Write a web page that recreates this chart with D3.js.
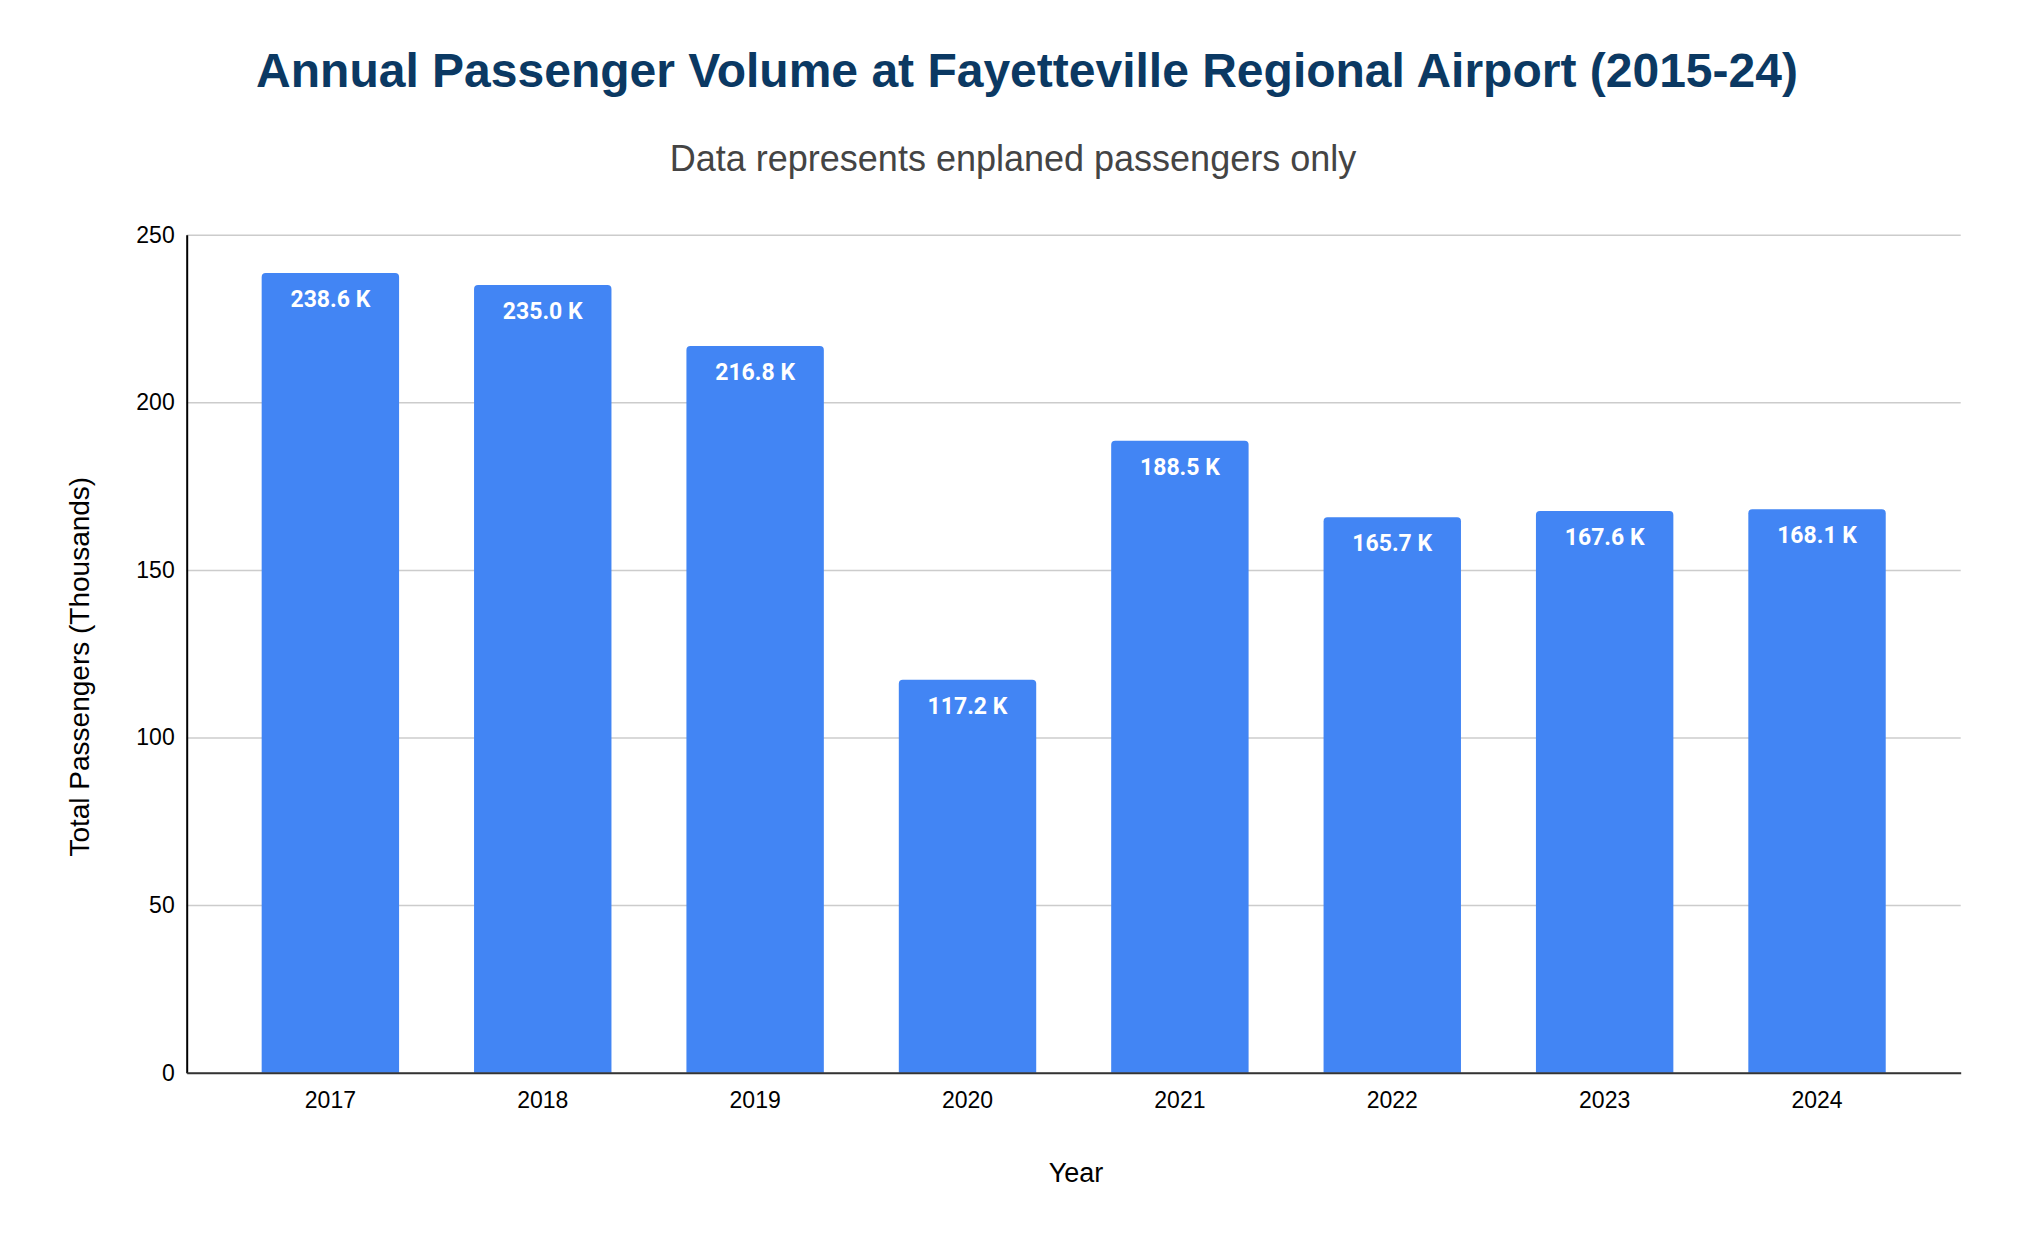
<!DOCTYPE html>
<html>
<head>
<meta charset="utf-8">
<script src="https://cdn.jsdelivr.net/npm/d3@7"></script>
<style>
  html, body { margin: 0; padding: 0; background: #ffffff; }
  svg { display: block; }
</style>
</head>
<body>
<svg id="chart" width="2024" height="1250"></svg>
<script>
const titleText = "Annual Passenger Volume at Fayetteville Regional Airport (2015-24)";
const subtitleText = "Data represents enplaned passengers only";
const xAxisTitle = "Year";
const yAxisTitle = "Total Passengers (Thousands)";
const years = ["2017", "2018", "2019", "2020", "2021", "2022", "2023", "2024"];
const passengers = [238.6, 235.0, 216.8, 117.2, 188.5, 165.7, 167.6, 168.1];
const yTicks = [0, 50, 100, 150, 200, 250];

const W = 2024, H = 1250;
const plot = { left: 186.7, right: 1960.7, top: 234.7, bottom: 1072.7 };
const sans = "'Liberation Sans', Arial, Helvetica, sans-serif";

const svg = d3.select("#chart");
svg.append("rect").attr("width", W).attr("height", H).attr("fill", "#ffffff");

const x = d3.scaleBand().domain(years).range([plot.left, plot.right])
  .paddingInner(0.353).paddingOuter(0.353);
const y = d3.scaleLinear().domain([0, 250]).range([plot.bottom, plot.top]);

// Title & subtitle
svg.append("text").attr("x", 1027).attr("y", 87.3)
  .attr("text-anchor", "middle").attr("font-family", sans)
  .attr("font-weight", "bold").attr("font-size", 48).attr("fill", "#0b3963")
  .text(titleText);
svg.append("text").attr("x", 1013).attr("y", 170.7)
  .attr("text-anchor", "middle").attr("font-family", sans)
  .attr("font-size", 36).attr("fill", "#444444")
  .text(subtitleText);

// Gridlines
const grid = svg.append("g").attr("transform", `translate(${plot.left},0)`)
  .call(d3.axisLeft(y).tickValues(yTicks).tickSize(-(plot.right - plot.left)).tickFormat(""));
grid.select(".domain").remove();
grid.selectAll("line").attr("stroke", "#cccccc").attr("stroke-width", 1.5);

// Bars with rounded top corners
const r = 4;
function barPath(d, i) {
  const x0 = x(years[i]), w = x.bandwidth();
  const yt = y(d), yb = y(0);
  return `M${x0},${yb} L${x0},${yt + r} Q${x0},${yt} ${x0 + r},${yt} L${x0 + w - r},${yt} Q${x0 + w},${yt} ${x0 + w},${yt + r} L${x0 + w},${yb} Z`;
}
svg.append("g").selectAll("path").data(passengers).join("path")
  .attr("d", (d, i) => barPath(d, i))
  .attr("fill", "#4285f4");

// Bar value labels
const fmt = d3.format(".1f");
svg.append("g").selectAll("text").data(passengers).join("text")
  .attr("x", (d, i) => x(years[i]) + x.bandwidth() / 2)
  .attr("y", d => y(d) + 34)
  .attr("text-anchor", "middle")
  .attr("font-family", "Roboto, 'Liberation Sans', sans-serif")
  .attr("font-weight", "bold").attr("font-size", 23).attr("fill", "#ffffff")
  .text(d => fmt(d) + " K");

// Y axis
const yAxis = svg.append("g").attr("transform", `translate(${plot.left},0)`)
  .call(d3.axisLeft(y).tickValues(yTicks).tickSize(0).tickPadding(12));
yAxis.select(".domain").attr("stroke", "#000000").attr("stroke-width", 2);
yAxis.selectAll("text").attr("font-family", sans).attr("font-size", 23).attr("fill", "#000000");

// X axis
const xAxis = svg.append("g").attr("transform", `translate(0,${plot.bottom})`)
  .call(d3.axisBottom(x).tickSize(0).tickPadding(0));
xAxis.select(".domain").attr("stroke", "#333333").attr("stroke-width", 2);
xAxis.selectAll("text").attr("font-family", sans).attr("font-size", 23).attr("fill", "#000000")
  .attr("dy", null).attr("y", 35.3);

// Axis titles
svg.append("text").attr("x", 1076).attr("y", 1181.7)
  .attr("text-anchor", "middle").attr("font-family", sans)
  .attr("font-size", 27).attr("fill", "#000000").text(xAxisTitle);
svg.append("text").attr("transform", "translate(89,666.7) rotate(-90)")
  .attr("text-anchor", "middle").attr("font-family", sans)
  .attr("font-size", 28).attr("fill", "#000000").text(yAxisTitle);
</script>
</body>
</html>
